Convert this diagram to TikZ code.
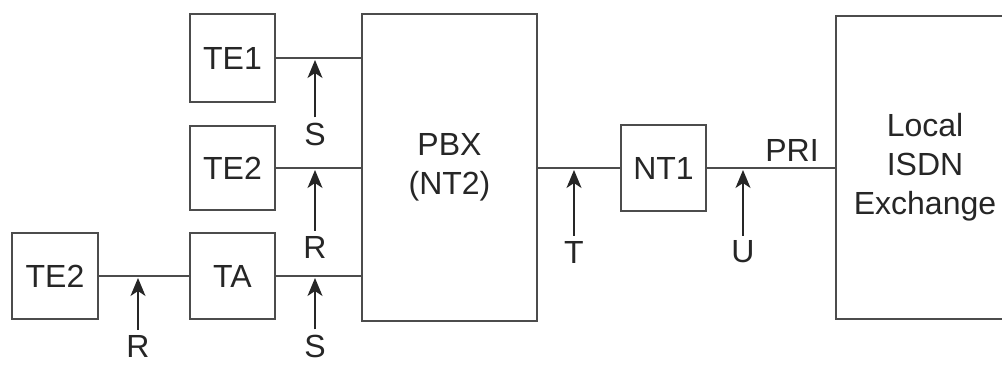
\documentclass[tikz,border=0pt]{standalone}
\usepackage{fontspec}
\setmainfont{Liberation Sans}
\usetikzlibrary{arrows.meta,calc}
\begin{document}
\begin{tikzpicture}[x=1pt,y=-1pt,
  every node/.style={font=\fontsize{32}{39}\selectfont, text=black!85},
  box/.style={draw=black!70, line width=1.7pt, rectangle, inner sep=0pt, align=center},
  wire/.style={draw=black!70, line width=1.7pt},
  lbl/.style={inner sep=0pt},
  arr/.style={draw=black!85, line width=1.7pt, shorten >=2pt, shorten <=5pt, -{Stealth[length=18pt,width=15pt,inset=5pt]}}
]
\clip (0,0) rectangle (1002,365);
\fill[white] (0,0) rectangle (1002,365);
% boxes
\node[box, minimum width=85pt, minimum height=88pt] (TE1) at (232.5,58) {TE1};
\node[box, minimum width=85pt, minimum height=84pt] (TE2a) at (232.5,168) {TE2};
\node[box, minimum width=86pt, minimum height=86pt] (TE2b) at (55,276) {TE2};
\node[box, minimum width=85pt, minimum height=86pt] (TA) at (232.5,276) {TA};
\node[box, minimum width=175pt, minimum height=307pt] (PBX) at (449.5,167.5) {PBX\\(NT2)};
\node[box, minimum width=85pt, minimum height=86pt] (NT1) at (663.5,168) {NT1};
\node[box, minimum width=178pt, minimum height=303pt] (EX) at (925,167.5) {Local\\ISDN\\Exchange};
% wires
\draw[wire] (TE1.east) -- (TE1.east -| PBX.west);
\draw[wire] (TE2a.east) -- (TE2a.east -| PBX.west);
\draw[wire] (TA.east) -- (TA.east -| PBX.west);
\draw[wire] (TE2b.east) -- (TA.west);
\draw[wire] (PBX.east |- NT1.west) -- (NT1.west);
\draw[wire] (NT1.east) -- (NT1.east -| EX.west);
% reference points on the wires
\coordinate (p1) at (315,58);
\coordinate (p2) at (315,168);
\coordinate (p3) at (315,276);
\coordinate (p4) at (138,276);
\coordinate (p5) at (574,168);
\coordinate (p6) at (743,168);
% labels
\node[lbl] (S1) at (315,134) {S};
\node[lbl] (R1) at (315,247) {R};
\node[lbl] (S2) at (315,346) {S};
\node[lbl] (R2) at (138,346) {R};
\node[lbl] (T) at (574,252) {T};
\node[lbl] (U) at (743,252) {U};
\node (PRI) at (792,150) {PRI};
% arrows
\draw[arr] (S1.north) -- (p1);
\draw[arr] (R1.north) -- (p2);
\draw[arr] (S2.north) -- (p3);
\draw[arr] (R2.north) -- (p4);
\draw[arr] (T.north) -- (p5);
\draw[arr] (U.north) -- (p6);
\end{tikzpicture}
\end{document}
